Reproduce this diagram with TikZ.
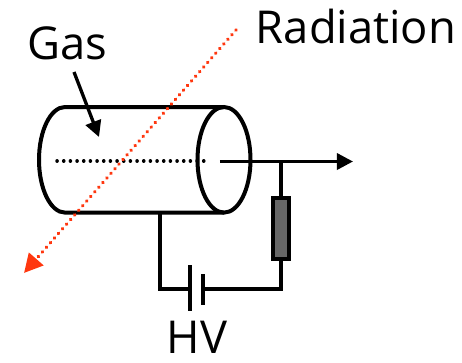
\documentclass[tikz,border=0pt]{standalone}
\usepackage{fontspec}
\setmainfont{Open Sans}
\usetikzlibrary{arrows.meta}
\definecolor{radred}{RGB}{255,55,15}
\tikzset{x=0.75pt,y=-0.75pt,
 wire/.style={line width=3pt,black},
 thinwire/.style={line width=2.5pt,black},
 lab/.style={font=\fontsize{34}{34}\selectfont,inner sep=0pt,text=black,anchor=base},
 arrowline/.style={thinwire,-{Triangle[length=12pt,width=12pt]}}}
\begin{document}
\begin{tikzpicture}
\useasboundingbox (0,0) rectangle (462,362);
% cylinder
\draw[wire] (224,107) -- (65,107) arc[start angle=270,end angle=90,x radius=26,y radius=52.8] -- (224,212.6);
\draw[wire] (224,159.8) ellipse[x radius=26.5,y radius=52.8];
\draw[black,line width=2.6pt,line cap=round,dash pattern=on 0.1pt off 4.9pt] (57,161) -- (205,161);
% radiation
\coordinate (radS) at (236,30);
\coordinate (radE) at (24,273);
\draw[radred,line width=2.8pt,line cap=round,dash pattern=on 0.1pt off 4.5pt,-{Triangle[length=14pt,width=14pt,fill=radred]}] (radS) -- (radE);
% Gas
\node[lab] (gas) at (67,59) {Gas};
\coordinate (gasS) at (74,72);
\coordinate (gasE) at (99,137);
\draw[arrowline] (gasS) -- (gasE);
\node[lab] (radiation) at (356,43) {Radiation};
% signal
\coordinate (sigS) at (220,161.5);
\coordinate (sigE) at (353,161.5);
\draw[arrowline] (sigS) -- (sigE);
% resistor
\node[draw=black,line width=3pt,fill=black!60,minimum width=12pt,minimum height=45.5pt,inner sep=0pt] (res) at (281,228.5) {};
\coordinate (tap) at (281,161.5);
\draw[thinwire] (tap) -- (res.north);
% circuit
\coordinate (cylB) at (160,212);
\coordinate (corner1) at (160,288.5);
\coordinate (corner2) at (281,288.5);
\coordinate (batA) at (190,288.5);
\coordinate (batB) at (203,288.5);
\draw[wire] (cylB) -- (corner1) -- (batA);
\draw[wire] (batB) -- (corner2) -- (res.south);
\draw[wire] (190,265) -- (190,311);
\draw[wire] (203,274) -- (203,305);
\node[lab] (hv) at (197,353) {HV};
\end{tikzpicture}
\end{document}
